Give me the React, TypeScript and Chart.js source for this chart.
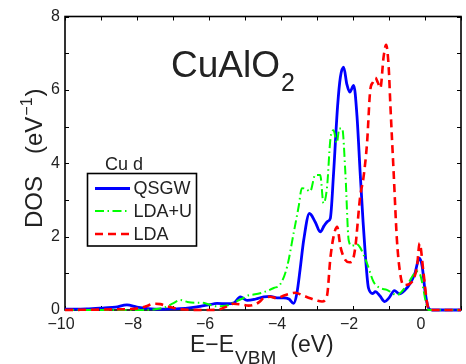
import React, { useEffect, useRef } from 'react';
import { Chart, registerables } from 'chart.js';

Chart.register(...registerables);

// ---- data ----
const qsgwE = [-10, -9.4, -8.9, -8.6, -8.28, -8.0, -7.7, -7.35, -7.0, -6.6, -6.3, -6.0, -5.78, -5.5, -5.3, -5.13, -4.94, -4.7, -4.48, -4.3, -4.11, -3.93, -3.78, -3.65, -3.56, -3.47, -3.37, -3.21, -3.05, -2.91, -2.8, -2.7, -2.63, -2.54, -2.43, -2.35, -2.26, -2.17, -2.09, -1.98, -1.89, -1.8, -1.72, -1.66, -1.57, -1.45, -1.38, -1.25, -1.12, -1.0, -0.85, -0.71, -0.55, -0.41, -0.28, -0.16, -0.08, 0.01, 0.1, 0.2, 0.4, 1.0];
const qsgwDOS = [0.02, 0.03, 0.06, 0.08, 0.14, 0.08, 0.04, 0.02, 0.03, 0.05, 0.09, 0.14, 0.18, 0.17, 0.2, 0.36, 0.26, 0.3, 0.36, 0.37, 0.33, 0.33, 0.3, 0.18, 0.45, 1.1, 1.9, 2.63, 2.4, 2.13, 2.3, 2.42, 2.5, 3.72, 5.53, 6.35, 6.62, 6.15, 5.94, 6.12, 5.3, 3.72, 2.4, 1.54, 0.6, 0.45, 0.5, 0.38, 0.23, 0.33, 0.53, 0.44, 0.55, 0.73, 1.0, 1.41, 1.2, 0.45, 0.05, 0, 0, 0];

const ldauE = [-10, -8, -7.5, -7.2, -7.0, -6.8, -6.6, -6.4, -6.2, -6.0, -5.8, -5.5, -5.32, -5.1, -4.9, -4.76, -4.5, -4.2, -4.02, -3.83, -3.65, -3.51, -3.42, -3.3, -3.19, -3.05, -2.91, -2.82, -2.72, -2.63, -2.54, -2.45, -2.38, -2.3, -2.21, -2.12, -2.03, -1.9, -1.8, -1.61, -1.43, -1.25, -1.06, -0.78, -0.5, -0.22, -0.13, -0.05, 0.01, 0.1, 0.2, 1.0];
const ldauDOS = [0, 0, 0.02, 0.08, 0.18, 0.27, 0.22, 0.2, 0.2, 0.15, 0.1, 0.12, 0.2, 0.3, 0.4, 0.42, 0.48, 0.6, 0.7, 1.18, 2.09, 2.82, 3.32, 3.3, 3.23, 3.68, 3.68, 2.91, 3.36, 4.64, 4.9, 4.55, 4.95, 4.95, 3.7, 1.9, 1.75, 1.8, 1.7, 1.27, 0.77, 0.6, 0.55, 0.41, 0.68, 1.05, 0.95, 0.6, 0.27, 0, 0, 0];

const ldaE = [-10, -8.5, -8.0, -7.75, -7.54, -7.35, -7.17, -7.0, -6.8, -6.0, -5.7, -5.5, -5.32, -5.1, -4.9, -4.76, -4.6, -4.48, -4.3, -4.11, -3.95, -3.83, -3.6, -3.4, -3.19, -2.98, -2.86, -2.72, -2.63, -2.54, -2.44, -2.35, -2.21, -2.1, -2.03, -1.94, -1.8, -1.71, -1.61, -1.52, -1.45, -1.38, -1.31, -1.24, -1.15, -1.08, -1.01, -0.96, -0.87, -0.78, -0.69, -0.6, -0.45, -0.32, -0.22, -0.15, -0.04, 0.06, 0.13, 0.2, 1.0];
const ldaDOS = [0, 0.02, 0.04, 0.1, 0.17, 0.16, 0.1, 0.06, 0.02, 0.0, 0.02, 0.1, 0.17, 0.15, 0.12, 0.14, 0.22, 0.33, 0.36, 0.32, 0.38, 0.42, 0.47, 0.4, 0.32, 0.25, 0.23, 0.4, 1.4, 2.0, 2.27, 1.73, 1.36, 1.3, 1.32, 1.68, 3.1, 3.6, 4.55, 6.0, 6.2, 6.33, 6.2, 6.05, 6.9, 7.23, 6.64, 5.55, 3.73, 1.91, 1.0, 0.68, 0.7, 0.84, 1.2, 1.82, 1.0, 0.18, 0.0, 0, 0];

const seriesNames = ['QSGW', 'LDA+U', 'LDA'];
const seriesColors = ['#0000ff', '#00ff00', '#ff0000'];
const seriesDashes = [[], [9, 3.5, 1.5, 3.5], [8, 5]];
const seriesWidths = [2.8, 2, 2.6];

const xTickValues = [-10, -9, -8, -7, -6, -5, -4, -3, -2, -1, 0, 1];
const yTickValues = [0, 1, 2, 3, 4, 5, 6, 7, 8];
const xMin = -10, xMax = 1, yMin = 0, yMax = 8;

const FONT = '"Liberation Sans", Arial, Helvetica, sans-serif';
const TEXT = '#222222';

const toPoints = (xs: number[], ys: number[]) => xs.map((x, i) => ({ x, y: ys[i] }));

const framePlugin = {
  id: 'frame',
  beforeDatasetsDraw(chart: any) {
    const ctx = chart.ctx;
    const { left, right, top, bottom } = chart.chartArea;
    const xs = chart.scales.x, ys = chart.scales.y;
    ctx.save();
    ctx.strokeStyle = '#000';
    ctx.lineWidth = 1;
    ctx.beginPath();
    for (const v of xTickValues) {
      const px = Math.round(xs.getPixelForValue(v)) + 0.5;
      ctx.moveTo(px, bottom); ctx.lineTo(px, bottom - 4);
      ctx.moveTo(px, top); ctx.lineTo(px, top + 4);
    }
    for (const v of yTickValues) {
      const py = Math.round(ys.getPixelForValue(v)) + 0.5;
      ctx.moveTo(left, py); ctx.lineTo(left + 4, py);
      ctx.moveTo(right, py); ctx.lineTo(right - 4, py);
    }
    ctx.stroke();
    ctx.lineWidth = 1.6;
    ctx.strokeRect(left, top, right - left, bottom - top);
    ctx.restore();
  },
  afterDatasetsDraw(chart: any) {
    const ctx = chart.ctx;
    ctx.save();
    ctx.fillStyle = TEXT;
    ctx.textBaseline = 'alphabetic';
    ctx.textAlign = 'left';
    // compound title
    ctx.font = `37px ${FONT}`;
    ctx.fillText('CuAlO', 171, 76.5);
    const w = ctx.measureText('CuAlO').width;
    ctx.font = `25px ${FONT}`;
    ctx.fillText('2', 171 + w + 1, 91);

    // x axis title
    let x = 190;
    ctx.font = `23px ${FONT}`;
    ctx.fillText('E\u2212E', x, 352);
    x += ctx.measureText('E\u2212E').width + 1;
    ctx.font = `19px ${FONT}`;
    ctx.fillText('VBM', x, 364);
    x += ctx.measureText('VBM').width + 14;
    ctx.font = `23px ${FONT}`;
    ctx.fillText('(eV)', x, 352);

    // y axis title
    ctx.save();
    ctx.translate(41.5, 228);
    ctx.rotate(-Math.PI / 2);
    let y = 0;
    ctx.font = `24px ${FONT}`;
    ctx.fillText('DOS', y, 0);
    y += ctx.measureText('DOS').width + 22;
    ctx.fillText('(eV', y, 0);
    y += ctx.measureText('(eV').width + 1;
    ctx.font = `16px ${FONT}`;
    ctx.fillText('\u22121', y, -10);
    y += ctx.measureText('\u22121').width + 1;
    ctx.font = `24px ${FONT}`;
    ctx.fillText(')', y, 0);
    ctx.restore();

    // legend
    ctx.font = `18px ${FONT}`;
    ctx.fillText('Cu d', 105, 169.5);
    ctx.fillStyle = '#ffffff';
    ctx.fillRect(87.5, 173.5, 109, 72.5);
    ctx.strokeStyle = '#000';
    ctx.lineWidth = 1.6;
    ctx.strokeRect(87.5, 173.5, 109, 72.5);
    const rows = [188.5, 211, 234];
    seriesNames.forEach((name, i) => {
      ctx.save();
      ctx.strokeStyle = seriesColors[i];
      ctx.lineWidth = seriesWidths[i];
      ctx.setLineDash(seriesDashes[i]);
      ctx.beginPath();
      ctx.moveTo(95, rows[i]);
      ctx.lineTo(130, rows[i]);
      ctx.stroke();
      ctx.restore();
      ctx.fillStyle = TEXT;
      ctx.font = `18px ${FONT}`;
      ctx.textBaseline = 'middle';
      ctx.fillText(name, 133.5, rows[i] + 1);
    });
    ctx.restore();
  },
};

export default function App() {
  const ref = useRef<HTMLCanvasElement | null>(null);
  useEffect(() => {
    if (!ref.current) return;
    const seriesData = [toPoints(qsgwE, qsgwDOS), toPoints(ldauE, ldauDOS), toPoints(ldaE, ldaDOS)];
    const chart = new Chart(ref.current, {
      type: 'line',
      data: {
        datasets: seriesNames.map((name, i) => ({
          label: name,
          data: seriesData[i],
          borderColor: seriesColors[i],
          borderWidth: seriesWidths[i],
          borderDash: seriesDashes[i],
          pointRadius: 0,
          fill: false,
          tension: 0.35,
          cubicInterpolationMode: 'monotone' as const,
          clip: 3,
          order: 2 - i,
        })),
      },
      options: {
        animation: false,
        responsive: true,
        maintainAspectRatio: false,
        layout: { padding: { left: 0, top: 16.5, right: 5, bottom: 0 } },
        plugins: { legend: { display: false }, tooltip: { enabled: false }, title: { display: false } },
        scales: {
          x: {
            type: 'linear',
            min: xMin,
            max: xMax,
            grid: { display: false, drawTicks: false },
            border: { display: false },
            afterFit: (s: any) => { s.height = 54; },
            afterBuildTicks: (s: any) => { s.ticks = xTickValues.map((v) => ({ value: v })); },
            ticks: {
              padding: 5,
              labelOffset: -4,
              maxRotation: 0,
              autoSkip: false,
              color: TEXT,
              font: { family: FONT, size: 16 },
              callback: (v: any) => (Number(v) % 2 === 0 ? (Number(v) < 0 ? '\u2212' + Math.abs(Number(v)) : String(v)) : ''),
            },
          },
          y: {
            type: 'linear',
            min: yMin,
            max: yMax,
            grid: { display: false, drawTicks: false },
            border: { display: false },
            afterFit: (s: any) => { s.width = 65; },
            afterBuildTicks: (s: any) => { s.ticks = yTickValues.map((v) => ({ value: v })); },
            ticks: {
              padding: 5,
              autoSkip: false,
              color: TEXT,
              font: { family: FONT, size: 16 },
              callback: (v: any) => (Number(v) % 2 === 0 ? String(v) : ''),
            },
          },
        },
      },
      plugins: [framePlugin],
    });
    return () => chart.destroy();
  }, []);
  return (
    <div style={{ position: 'absolute', left: 0, top: 0, width: 466, height: 364, background: '#fff' }}>
      <canvas ref={ref} />
    </div>
  );
}
